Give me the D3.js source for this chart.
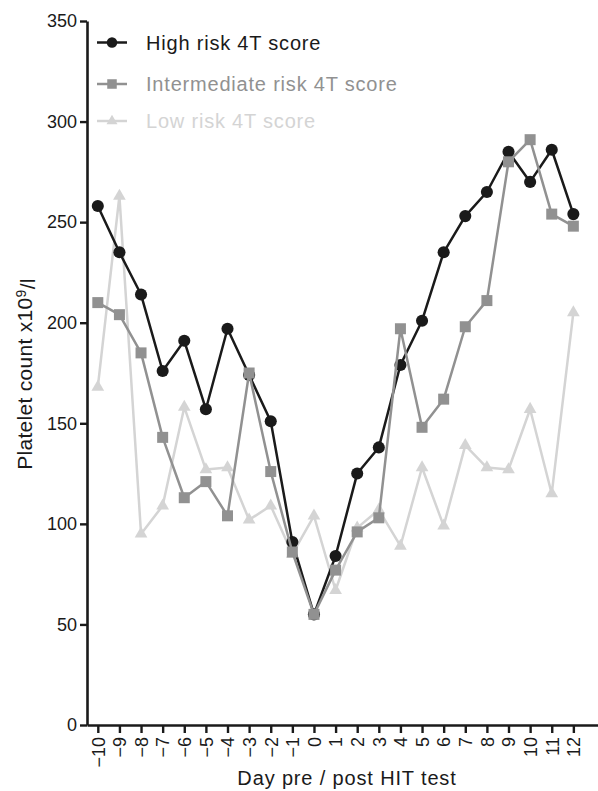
<!DOCTYPE html>
<html>
<head>
<meta charset="utf-8">
<script src="https://cdn.jsdelivr.net/npm/d3@7"></script>
<style>
  body { margin: 0; background: #fff; }
  svg { display: block; font-family: "Liberation Sans", Arial, sans-serif; }
</style>
</head>
<body>
<svg id="chart" width="598" height="791"></svg>
<script>
// data
const days = d3.range(-10, 13);
const highRisk = [258, 235, 214, 176, 191, 157, 197, 174, 151, 91, 55, 84, 125, 138, 179, 201, 235, 253, 265, 285, 270, 286, 254];
const intermediateRisk = [210, 204, 185, 143, 113, 121, 104, 175, 126, 86, 55, 77, 96, 103, 197, 148, 162, 198, 211, 280, 291, 254, 248];
const lowRisk = [168, 263, 95, 109, 158, 127, 128, 102, 109, 85, 104, 67, 98, 107, 89, 128, 99, 139, 128, 127, 157, 115, 205];
const yTicks = [0, 50, 100, 150, 200, 250, 300, 350];

const seriesList = [
  { name: "Low risk 4T score", values: lowRisk, color: "#d4d4d4", symbol: d3.symbolTriangle, size: 70, legendY: 121 },
  { name: "High risk 4T score", values: highRisk, color: "#1a1a1a", symbol: d3.symbolCircle, size: 115, legendY: 42.5 },
  { name: "Intermediate risk 4T score", values: intermediateRisk, color: "#919191", symbol: d3.symbolSquare, size: 121, legendY: 84 }
];

const svg = d3.select("#chart");

// scales
const x = d3.scaleLinear().domain([-10.5, 13.14]).range([87, 598]);
const y = d3.scaleLinear().domain([0, 350]).range([725, 21]);

// axes
const xAxis = svg.append("g")
  .attr("transform", `translate(0,${y(0)})`)
  .call(d3.axisBottom(x).tickValues(days).tickSize(8).tickSizeOuter(0));
xAxis.selectAll("text")
  .attr("transform", "rotate(-90)")
  .attr("text-anchor", "end")
  .attr("x", -12)
  .attr("y", 0)
  .attr("dy", "0.35em");

const yAxis = svg.append("g")
  .attr("transform", `translate(${x(-10.5)},0)`)
  .call(d3.axisLeft(y).tickValues(yTicks).tickSize(7).tickPadding(3).tickSizeOuter(0));

[xAxis, yAxis].forEach(ax => {
  ax.select(".domain").attr("stroke", "#1a1a1a").attr("stroke-width", 2.6);
  ax.selectAll(".tick line").attr("stroke", "#1a1a1a").attr("stroke-width", 2.4);
  ax.selectAll("text").attr("fill", "#1a1a1a").style("font-size", "18px");
});

// series
const line = d3.line()
  .x((d, i) => x(days[i]))
  .y(d => y(d));

seriesList.forEach(s => {
  const g = svg.append("g");
  g.append("path")
    .datum(s.values)
    .attr("fill", "none")
    .attr("stroke", s.color)
    .attr("stroke-width", 2.5)
    .attr("stroke-linejoin", "round")
    .attr("d", line);
  g.selectAll("path.pt")
    .data(s.values)
    .join("path")
      .attr("class", "pt")
      .attr("transform", (d, i) => `translate(${x(days[i])},${y(d)})`)
      .attr("d", d3.symbol().type(s.symbol).size(s.size))
      .attr("fill", s.color);
});

// legend
const legend = svg.append("g");
seriesList.forEach(s => {
  const row = legend.append("g").attr("transform", `translate(0,${s.legendY})`);
  row.append("line")
    .attr("x1", 97).attr("x2", 127)
    .attr("stroke", s.color).attr("stroke-width", 2.5);
  row.append("path")
    .attr("transform", "translate(112,0)")
    .attr("d", d3.symbol().type(s.symbol).size(s.size * 0.75))
    .attr("fill", s.color);
  row.append("text")
    .attr("x", 146)
    .attr("y", 7)
    .attr("fill", s.color)
    .style("font-size", "20px")
    .style("letter-spacing", "0.8px")
    .text(s.name);
});

// axis titles
svg.append("text")
  .attr("x", 347)
  .attr("y", 785)
  .attr("text-anchor", "middle")
  .attr("fill", "#1a1a1a")
  .style("font-size", "20px")
  .style("letter-spacing", "0.85px")
  .text("Day pre / post HIT test");

const yTitle = svg.append("text")
  .attr("transform", "translate(32,374) rotate(-90)")
  .attr("text-anchor", "middle")
  .attr("fill", "#1a1a1a")
  .style("font-size", "21px")
  .style("letter-spacing", "0.3px");
yTitle.append("tspan").text("Platelet count x10");
yTitle.append("tspan").attr("dy", "-0.45em").style("font-size", "14px").text("9");
yTitle.append("tspan").attr("dy", "0.45em").text("/l");
</script>
</body>
</html>
